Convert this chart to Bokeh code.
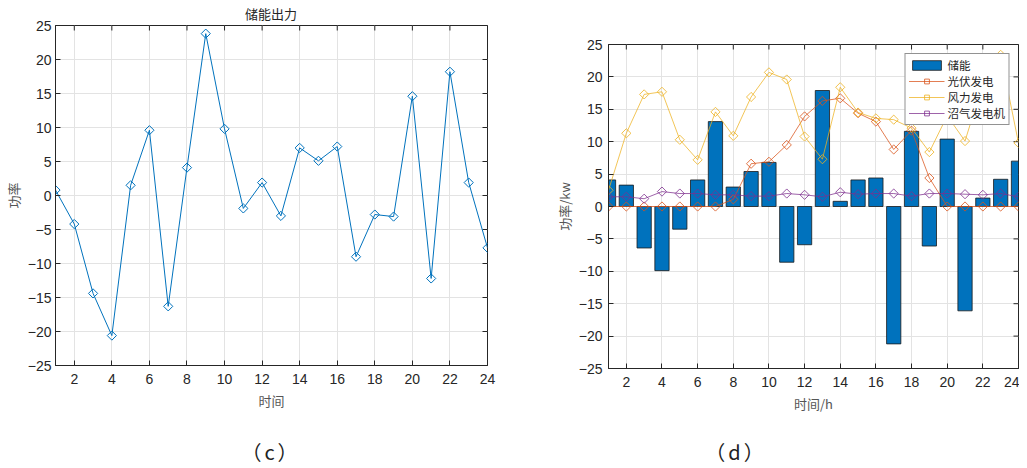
import numpy as np
from bokeh.plotting import figure
from bokeh.models import Range1d, FixedTicker, Legend, LegendItem, Div
from bokeh.layouts import row, column
from bokeh.embed import file_html
from bokeh.resources import INLINE

hours = list(range(1, 25))
x_ticks = list(range(2, 25, 2))
y_ticks = list(range(-25, 26, 5))

# (c) storage output
storage_c = [0.8, -4.2, -14.4, -20.6, 1.5, 9.6, -16.3, 4.1, 23.8, 9.8, -1.9, 1.9,
             -3.0, 7.0, 5.1, 7.2, -9.0, -2.8, -3.1, 14.6, -12.2, 18.2, 1.9, -7.7]

# (d) power balance
storage_d = [4.1, 3.3, -6.4, -9.9, -3.5, 4.1, 13.1, 3.0, 5.4, 6.8, -8.6, -5.9,
             17.9, 0.8, 4.1, 4.4, -21.2, 11.6, -6.1, 10.4, -16.1, 1.3, 4.2, 7.0]
pv = [0, 0, 0, 0, 0, 0, 0, 1.1, 6.6, 6.9, 9.5, 13.9,
      16.3, 16.7, 14.4, 13.1, 8.8, 11.7, 4.4, 0, 0, 0, 0, 0]
wind = [2.5, 11.3, 17.3, 17.7, 10.3, 7.2, 14.6, 10.9, 16.9, 20.7, 19.6, 10.8,
        7.3, 18.4, 14.5, 13.6, 13.4, 12.1, 8.4, 14.0, 10.1, 19.0, 23.4, 9.8]
biogas = [1.5, 1.5, 1.2, 2.3, 2.0, 2.0, 1.8, 1.8, 1.6, 1.6, 2.0, 1.8,
          1.5, 2.2, 1.9, 2.0, 2.0, 1.6, 2.0, 2.0, 1.9, 1.8, 2.0, 1.5]

labels_d = ["储能", "光伏发电", "风力发电", "沼气发电机"]
title_c = "储能出力"
caption_c = "（c）"
caption_d = "（d）"

AX = "#262626"
GRID = "#e3e3e3"
NUM_FONT = "Liberation Sans"
CJK = "Noto Sans CJK SC"
X0, X1 = hours[0], hours[-1]
Y0, Y1 = y_ticks[0], y_ticks[-1]


def style(p, xlabel, ylabel, ylab_stand, ytick_stand):
    p.x_range = Range1d(X0, X1)
    p.y_range = Range1d(Y0, Y1)
    p.outline_line_color = AX
    p.outline_line_width = 1
    p.border_fill_alpha = 0
    p.xgrid.ticker = FixedTicker(ticks=x_ticks)
    p.ygrid.ticker = FixedTicker(ticks=y_ticks)
    p.grid.grid_line_color = GRID
    p.grid.grid_line_width = 1
    p.xaxis.ticker = FixedTicker(ticks=x_ticks)
    p.yaxis.ticker = FixedTicker(ticks=y_ticks)
    for ax in p.axis:
        ax.axis_line_color = AX
        ax.axis_line_width = 1
        ax.major_tick_line_color = AX
        ax.major_tick_in = 5
        ax.major_tick_out = 0
        ax.minor_tick_line_color = None
        ax.major_label_text_font = NUM_FONT
        ax.major_label_text_font_size = "14px"
        ax.major_label_text_color = AX
        ax.axis_label_text_font = CJK
        ax.axis_label_text_font_size = "13px"
        ax.axis_label_text_font_style = "normal"
        ax.axis_label_text_color = "#555555"
    p.xaxis.axis_label = xlabel
    p.yaxis.axis_label = ylabel
    p.xaxis.major_label_standoff = 8
    p.yaxis.major_label_standoff = ytick_stand
    p.xaxis.axis_label_standoff = 4
    p.yaxis.axis_label_standoff = ylab_stand
    # mirrored inward ticks on the top and right edges (clipped half of a dash)
    p.scatter(x_ticks, [Y1] * len(x_ticks), marker="dash", angle=np.pi / 2, size=10,
              line_color=AX, line_width=1)
    p.scatter([X1] * len(y_ticks), y_ticks, marker="dash", size=10,
              line_color=AX, line_width=1)


def text_div(text, width, height, size, indent, pad_top, color, spacing=0):
    return Div(text=text, width=width, height=height, margin=0,
               styles={"text-align": "center", "text-indent": f"{indent}px",
                       "font-family": CJK, "font-size": f"{size}px",
                       "line-height": f"{size}px", "padding-top": f"{pad_top}px",
                       "letter-spacing": f"{spacing}px",
                       "color": color, "box-sizing": "border-box", "overflow": "visible",
                       "white-space": "nowrap"})


# ---------- left chart (c) ----------
p1 = figure(frame_width=432, frame_height=340, output_backend="svg", toolbar_location=None,
            min_border_left=55, min_border_right=31, min_border_top=13, min_border_bottom=50,
            frame_align=False)
style(p1, "时间", "功率", 2, 4)
p1.line(hours, storage_c, line_color="#0072BD", line_width=1)
p1.scatter(hours, storage_c, marker="square", angle=np.pi / 4, size=6.5,
           line_color="#0072BD", fill_color=None, line_width=1)

title_div = text_div(title_c, 518, 12, 13, 24, 7, AX)
cap_c = text_div(caption_c, 518, 45, 20, 24, 27, "#222222", 3)

# ---------- right chart (d) ----------
p2 = figure(frame_width=410, frame_height=324, output_backend="svg", toolbar_location=None,
            min_border_left=90, min_border_right=1, min_border_top=44, min_border_bottom=47,
            frame_align=False)
style(p2, "时间/h", "功率/kw", 2, 6)
r_bar = p2.vbar(x=hours, top=storage_d, width=0.8, fill_color="#0072BD",
                line_color="#1a1a1a", line_width=0.8)
items = [LegendItem(label=labels_d[0], renderers=[r_bar])]
for series, color, name in ((pv, "#D95319", labels_d[1]), (wind, "#EDB120", labels_d[2]),
                            (biogas, "#7E2F8E", labels_d[3])):
    rl = p2.line(hours, series, line_color=color, line_width=1, line_alpha=0.75)
    rs = p2.scatter(hours, series, marker="square", angle=np.pi / 4, size=6.5,
                    line_color=color, fill_color=None, line_width=1, line_alpha=0.8)
    items.append(LegendItem(label=name, renderers=[rl, rs]))
legend = Legend(items=items, location="top_right")
legend.margin = 9
legend.padding = 3
legend.spacing = 0
legend.glyph_width = 36
legend.glyph_height = 12
legend.label_height = 12
legend.label_text_font = CJK
legend.label_text_font_size = "11.5px"
legend.label_text_color = AX
legend.label_standoff = 3
legend.border_line_color = AX
legend.border_line_width = 1
legend.background_fill_color = "white"
legend.background_fill_alpha = 1
p2.add_layout(legend, "center")

cap_d = text_div(caption_d, 501, 45, 20, -65, 27, "#222222", 3)

layout = row(column(title_div, p1, cap_c), column(p2, cap_d))
open("out.html", "w").write(file_html(layout, INLINE))
